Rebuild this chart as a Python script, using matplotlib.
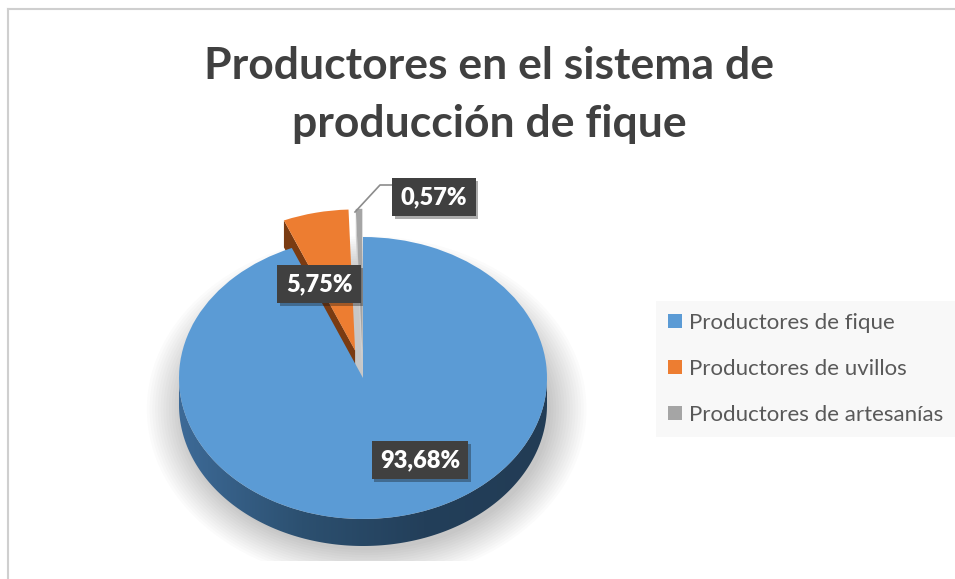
import numpy as np
import matplotlib
matplotlib.use("Agg")
import matplotlib.pyplot as plt
from matplotlib.patches import Polygon, Ellipse
from matplotlib.lines import Line2D
import matplotlib.patheffects as pe

# ─── Données ────────────────────────────────────────────────
categorias = ["Productores de fique", "Productores de uvillos", "Productores de artesanías"]
valores = [93.68, 5.75, 0.57]
colores = ["#5b9bd5", "#ed7d31", "#a5a5a5"]
colores_lado = ["#2c4f72", "#7a3b12", "#d0d0d0"]
separacion = [0.0, 0.2, 0.2]
titulo = "Productores en el sistema de\nproducción de fique"

# ─── Géométrie (pixels) ─────────────────────────────────────
W, H = 955, 579
CX, CY, RX, RY = 363, 378, 184, 141
PROF = 27 / RY          # épaisseur du "3D" en unités du camembert
LIM = 1.3

fig = plt.figure(figsize=(W / 100, H / 100), dpi=100)
fig.patch.set_facecolor("white")
plt.rcParams["font.family"] = ["Lato", "DejaVu Sans"]

# cadre du graphique (haut + gauche seulement)
fig.add_artist(Line2D([8 / W, 1], [1 - 9 / H, 1 - 9 / H], transform=fig.transFigure,
                      color="#cfcfcf", linewidth=1.5))
fig.add_artist(Line2D([8 / W, 8 / W], [0, 1 - 9 / H], transform=fig.transFigure,
                      color="#cfcfcf", linewidth=1.5))

ax = fig.add_axes([(CX - RX * LIM) / W, (H - CY - RY * LIM) / H,
                   2 * RX * LIM / W, 2 * RY * LIM / H])
wedges, _ = ax.pie(valores, colors=colores, startangle=90, counterclock=False,
                   explode=separacion, radius=1, wedgeprops=dict(linewidth=0))
ax.set_aspect("auto")

# ombre douce sous le camembert
for k in range(14):
    e = Ellipse((0.02, -PROF - 0.03), 2.0 + 0.03 * k, 2.0 + 0.035 * k,
                facecolor="black", edgecolor="none", alpha=0.016, zorder=0.1)
    ax.add_patch(e)

# flanc avant (partie basse de l'ellipse)
t = np.linspace(np.pi, 2 * np.pi, 200)
haut = np.column_stack([np.cos(t), np.sin(t)])
bas = haut[::-1] - [0, PROF]
flanc = Polygon(np.vstack([haut, bas]), closed=True, facecolor="none",
                edgecolor="none", zorder=0.5)
ax.add_patch(flanc)
grad = np.linspace(0, 1, 256).reshape(1, -1)
cmap = matplotlib.colors.LinearSegmentedColormap.from_list(
    "flanc", ["#3d6a97", "#2c5070", "#233f5a", "#223c55"])
im = ax.imshow(grad, extent=(-1, 1, -1 - PROF, 0), cmap=cmap, aspect="auto",
               zorder=0.5)
im.set_clip_path(flanc)

# faces radiales visibles des parts détachées
for w, c in zip(wedges[1:], colores_lado[1:]):
    ang = np.deg2rad(w.theta2)
    cx0, cy0 = w.center
    p0 = np.array([cx0, cy0])
    p1 = p0 + w.r * np.array([np.cos(ang), np.sin(ang)])
    pts = [p0, p1, p1 - [0, PROF], p0 - [0, PROF]]
    ax.add_patch(Polygon(pts, closed=True, facecolor=c, edgecolor="none", zorder=0.8))

for w in wedges[1:]:
    w.set_zorder(1.2)

ax.set_xlim(-LIM, LIM)
ax.set_ylim(-LIM, LIM)

# ─── Titre ──────────────────────────────────────────────────
fig.text(489 / W, 1 - 95 / H, titulo, ha="center", va="center", fontsize=32,
         fontweight="bold", color="#404040", linespacing=1.55)

# ─── Étiquettes ─────────────────────────────────────────────
def etiqueta(v, x, y):
    txt = fig.text(x / W, 1 - y / H, f"{v:.2f}%".replace(".", ","),
                   ha="center", va="center", fontsize=17, fontweight="heavy",
                   color="white",
                   bbox=dict(boxstyle="square,pad=0.35", facecolor="#404040",
                             edgecolor="none"))
    txt.get_bbox_patch().set_path_effects(
        [pe.SimplePatchShadow(offset=(2, -2), alpha=0.35), pe.Normal()])
    return txt

etiqueta(valores[0], 420, 460)
etiqueta(valores[1], 319, 284)
etiqueta(valores[2], 434, 197)

# ligne de rappel pour la petite part
fig.add_artist(Line2D([355 / W, 380 / W, 392 / W],
                      [1 - 212 / H, 1 - 185 / H, 1 - 185 / H],
                      transform=fig.transFigure, color="#8c8c8c", linewidth=1.2))

# ─── Légende ────────────────────────────────────────────────
leg = fig.legend(wedges, categorias, loc="upper left",
                 bbox_to_anchor=(656 / W, 1 - 301 / H), borderaxespad=0,
                 frameon=True, fancybox=False, facecolor="#f7f7f7",
                 edgecolor="#f7f7f7", fontsize=16, labelcolor="#595959",
                 handlelength=0.6, handleheight=0.6, handletextpad=0.35,
                 labelspacing=1.17, borderpad=0.55)
leg.get_frame().set_linewidth(0)

fig.savefig("out.png", dpi=100)
